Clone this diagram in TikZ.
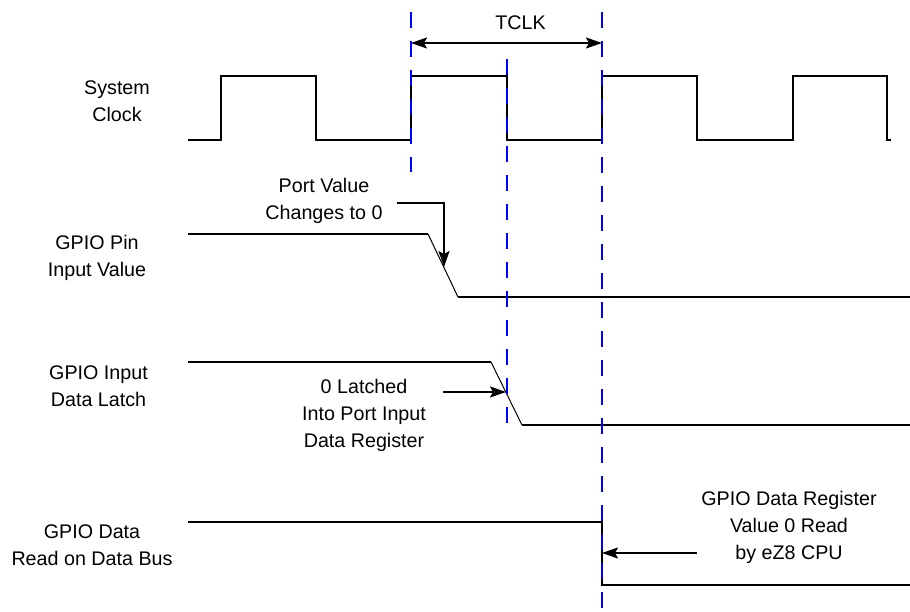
\documentclass[tikz,border=0pt]{standalone}
\usepackage{fontspec}
\setmainfont{Liberation Sans}
\usetikzlibrary{arrows.meta}
\begin{document}
\begin{tikzpicture}[x=1pt,y=-1pt,
  sig/.style={line width=2pt},
  slope/.style={line width=1pt},
  guide/.style={blue, line width=2.2pt, dash pattern=on 16pt off 13pt},
  lbl/.style={align=center, font=\fontsize{19.7}{27}\selectfont, inner sep=0pt},
  tip/.style={Stealth[length=16pt,width=11pt,inset=3pt]},
  arr/.style={line width=2pt, -{Stealth[length=16pt,width=11pt,inset=3pt]}},
  darr/.style={line width=2pt, {Stealth[length=16pt,width=11pt,inset=3pt]}-{Stealth[length=16pt,width=11pt,inset=3pt]}}
]
\useasboundingbox (0,0) rectangle (910,612);

% labels
\node[lbl] (sysclk) at (117,101) {System\\Clock};
\node[lbl] (pin) at (97,258) {GPIO Pin\\Input Value};
\node[lbl] (latch) at (98.5,386) {GPIO Input\\Data Latch};
\node[lbl] (bus) at (92,545) {GPIO Data\\Read on Data Bus};
\node[lbl] (pv) at (324,201) {Port Value\\Changes to 0};
\node[lbl] (lat) at (364,415) {0 Latched\\Into Port Input\\Data Register};
\node[lbl] (rd) at (789,527) {GPIO Data Register\\Value 0 Read\\by eZ8 CPU};
\node[lbl] (tclk) at (520.5,23) {TCLK};

% system clock
\draw[sig] (188,140) -- (221,140) -- (221,76) -- (316,76) -- (316,140) -- (411,140)
  -- (411,76) -- (507,76) -- (507,140) -- (602,140) -- (602,76) -- (697,76)
  -- (697,140) -- (793,140) -- (793,76) -- (887,76) -- (887,140) -- (891,140);

% GPIO pin input value
\coordinate (pinA) at (428,234);
\coordinate (pinB) at (458,297);
\draw[sig] (188,234) -- (pinA);
\draw[slope] (pinA) -- (pinB);
\draw[sig] (pinB) -- (910,297);

% GPIO input data latch
\coordinate (latA) at (491,362);
\coordinate (latB) at (522,425);
\draw[sig] (188,362) -- (latA);
\draw[slope] (latA) -- (latB);
\draw[sig] (latB) -- (910,425);

% GPIO data read on data bus
\draw[sig] (188,522) -- (602,522) -- (602,585) -- (910,585);

% annotation arrows
\coordinate (pvStart) at (397,203);
\coordinate (pvTip) at (444,267);
\draw[arr] (pvStart) -| (pvTip);
\coordinate (latStart) at (443,392);
\coordinate (latTip) at (506,392);
\draw[arr] (latStart) -- (latTip);
\coordinate (rdStart) at (697,553);
\coordinate (rdTip) at (602,553);
\draw[arr] (rdStart) -- (rdTip);

% blue guide lines
\draw[guide] (411,12) -- (411,172);
\draw[guide] (507,59) -- (507,428);
\draw[guide] (602,12) -- (602,612);

% TCLK
\coordinate (tL) at (411,43);
\coordinate (tR) at (602,43);
\draw[darr] (tL) -- (tR);
\end{tikzpicture}
\end{document}
